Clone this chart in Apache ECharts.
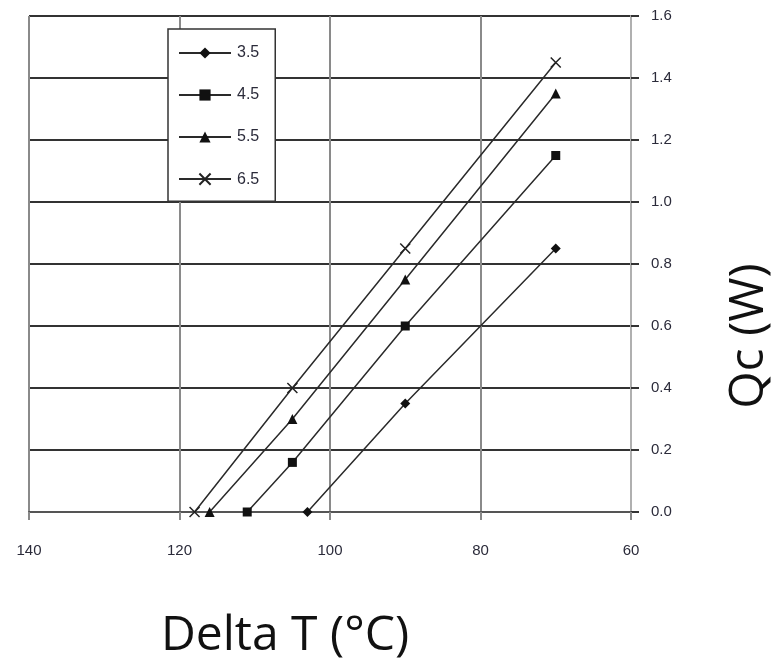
<!DOCTYPE html>
<html>
<head>
<meta charset="utf-8">
<script src="https://cdn.jsdelivr.net/npm/echarts@6/dist/echarts.min.js"></script>
<style>
html,body{margin:0;padding:0;background:#fff;}
#chart{width:774px;height:663px;}
</style>
</head>
<body>
<div id="chart"></div>
<script>
// Data
const seriesNames = ['3.5', '4.5', '5.5', '6.5'];
const deltaT_35 = [103, 90, 70];
const qc_35 = [0, 0.35, 0.85];
const deltaT_45 = [111, 105, 90, 70];
const qc_45 = [0, 0.16, 0.6, 1.15];
const deltaT_55 = [116, 105, 90, 70];
const qc_55 = [0, 0.3, 0.75, 1.35];
const deltaT_65 = [118, 105, 90, 70];
const qc_65 = [0, 0.4, 0.85, 1.45];
const xTicks = [140, 120, 100, 80, 60];
const yTicks = [0, 0.2, 0.4, 0.6, 0.8, 1.0, 1.2, 1.4, 1.6];

const pairs = (xs, ys) => xs.map((x, i) => [x, ys[i]]);
const symbols = ['diamond', 'rect', 'triangle', 'path://M0,0L10,10M10,0L0,10'];
const sizes = [10, 9, 10, 10];
const allX = [deltaT_35, deltaT_45, deltaT_55, deltaT_65];
const allY = [qc_35, qc_45, qc_55, qc_65];

const chart = echarts.init(document.getElementById('chart'));
const lineColor = '#2a2a2a';
chart.setOption({
  animation: false,
  backgroundColor: '#fff',
  grid: { left: 29, right: 143, top: 16, bottom: 151 },
  xAxis: {
    type: 'value',
    inverse: true,
    min: xTicks[xTicks.length - 1],
    max: xTicks[0],
    interval: 20,
    axisLine: { show: true, onZero: false, lineStyle: { color: '#555', width: 2 } },
    axisTick: { show: true, inside: false, length: 8, lineStyle: { color: '#888', width: 2 } },
    axisLabel: { margin: 31, fontFamily: 'Liberation Sans, Arial', fontSize: 15, color: '#2b2b3a' },
    splitLine: { show: true, lineStyle: { color: '#8a8a8a', width: 2 } }
  },
  yAxis: {
    type: 'value',
    position: 'right',
    min: yTicks[0],
    max: yTicks[yTicks.length - 1],
    interval: 0.2,
    axisLine: { show: true, lineStyle: { color: '#b0b0b0', width: 2 } },
    axisTick: { show: true, inside: false, length: 8, lineStyle: { color: '#333', width: 2 } },
    axisLabel: { margin: 20, fontFamily: 'Liberation Sans, Arial', fontSize: 15, color: '#2b2b3a',
      formatter: v => v.toFixed(1) },
    splitLine: { show: true, lineStyle: { color: '#333', width: 2 } }
  },
  legend: {
    orient: 'vertical',
    left: 168,
    top: 29,
    backgroundColor: '#fff',
    borderColor: '#333',
    borderWidth: 1.5,
    borderRadius: 0,
    padding: [16, 16, 14, 10],
    itemWidth: 52,
    itemHeight: 14,
    itemGap: 26,
    textStyle: { fontFamily: 'Liberation Sans, Arial', fontSize: 16, color: '#2b2b3a', padding: [0, 0, 0, 1] },
    data: seriesNames
  },
  series: seriesNames.map((name, i) => ({
    name: name,
    type: 'line',
    data: pairs(allX[i], allY[i]),
    symbol: symbols[i],
    symbolSize: sizes[i],
    showAllSymbol: true,
    lineStyle: { color: lineColor, width: 1.5 },
    itemStyle: i === 3
      ? { color: 'none', borderColor: '#222', borderWidth: 1.5 }
      : { color: '#111', borderWidth: 0 },
    z: 3
  })),
  graphic: [
    { type: 'text', x: 285, y: 636,
      style: { text: 'Delta T (°C)', font: '48px "Open Sans"', fill: '#111', align: 'center', verticalAlign: 'middle' } },
    { type: 'text', x: 749, y: 336, rotation: Math.PI / 2,
      style: { text: 'Qc (W)', font: '48px "Open Sans"', fill: '#111', align: 'center', verticalAlign: 'middle' } }
  ]
});
</script>
</body>
</html>
